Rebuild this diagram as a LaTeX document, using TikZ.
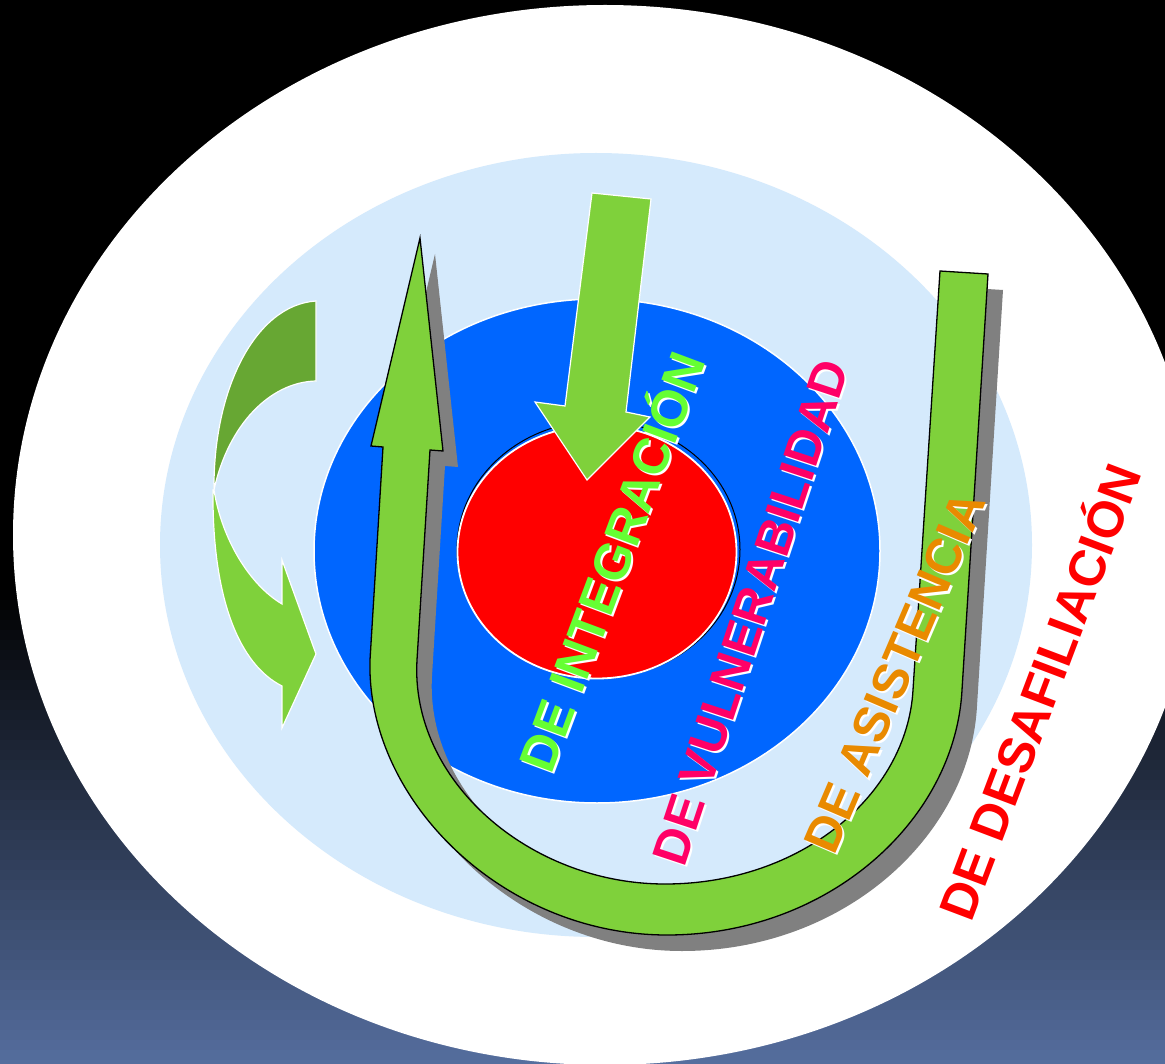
\documentclass[tikz,border=0pt]{standalone}
\usepackage{fontspec}
\setmainfont{Liberation Sans}
\definecolor{bgb}{HTML}{566FA0}
\definecolor{lblue}{HTML}{D5EAFC}
\definecolor{mblue}{HTML}{0066FF}
\definecolor{ugreen}{HTML}{7FD13B}
\definecolor{dgreen}{HTML}{67A733}
\definecolor{shadowgray}{HTML}{808080}
\definecolor{intg}{HTML}{66FF33}
\definecolor{vuln}{HTML}{FF0066}
\definecolor{asis}{HTML}{E98A00}
\definecolor{desa}{HTML}{FF0000}
\newcommand{\shtext}[2]{\makebox[0pt][l]{\hspace{-1.2pt}\raisebox{-2.5pt}{\color{white}#2}}{\color{#1}#2}}
\tikzset{
  lbla/.style={inner sep=0pt, text depth=0pt, text height=36.5pt, font=\fontsize{51}{51}\selectfont\bfseries},
  lblb/.style={inner sep=0pt, text depth=0pt, text height=35.8pt, font=\fontsize{50}{50}\selectfont\bfseries},
  arrowfill/.style={fill=ugreen, draw=white, line width=1.2pt},
}
\def\Upath{(420,238) -- (443,451) -- (430,450) -- (417,660) .. controls (410,780) and (529,884) .. (665,884) .. controls (801,884) and (907,795) .. (913,690) -- (940,271) -- (988,274) -- (962,690) .. controls (955,820) and (829,935) .. (667,935) .. controls (503,935) and (366,800) .. (370,660) -- (383,447) -- (371,446) -- cycle}
\begin{document}
\begin{tikzpicture}[x=1pt,y=-1pt, line join=miter]
\useasboundingbox (0,0) rectangle (1165,1064);
\clip (0,0) rectangle (1165,1064);
% background
\fill[black] (0,0) rectangle (1165,1064);
\foreach \i in {0,...,47} {
  \pgfmathsetmacro{\p}{(\i+0.5)/48*100}
  \fill[bgb!\p!black] (0,590+10*\i) rectangle (1165,601+10*\i);
}
% ellipses
\fill[white] (605,535) ellipse [x radius=592, y radius=530];
\fill[lblue] (596,545) ellipse [x radius=436, y radius=392];
\filldraw[fill=mblue, draw=white, line width=1.5pt] (597,551) ellipse [x radius=283, y radius=252];
\draw[black, line width=1pt] (598.5,549.5) ellipse [x radius=141.5, y radius=128.5];
\filldraw[fill=red, draw=white, line width=1.8pt] (597,552) ellipse [x radius=139.5, y radius=126.5];
% left curved arrow
\filldraw[fill=dgreen, draw=white, line width=1.2pt]
  (316,301) -- (316,381) .. controls (270,382) and (228,425) .. (214,490)
  .. controls (213,390) and (255,305) .. (316,301) -- cycle;
\filldraw[arrowfill]
  (213,490) .. controls (212,600) and (240,665) .. (282,686)
  -- (282,728) -- (316,654) -- (282,560) -- (282,604)
  .. controls (250,585) and (222,540) .. (214,490) -- cycle;
% U arrow with shadow
\fill[shadowgray, shift={(15,16)}] \Upath;
\filldraw[fill=ugreen, draw=black, line width=1.3pt] \Upath;
% down arrow
\filldraw[arrowfill] (592,193) -- (651,199) -- (626,412) -- (650,417) -- (587,480) -- (535,402) -- (565,406) -- cycle;
% texts
\node[lbla, rotate=69.5] (t1) at (612,562) {\shtext{intg}{DE INTEGRACIÓN}};
\node[lblb, rotate=71.7] (t2) at (750,612) {\shtext{vuln}{DE VULNERABILIDAD}};
\node[lblb, rotate=66.8] (t3) at (894,672) {\shtext{asis}{DE ASISTENCIA}};
\node[lbla, rotate=69.3, text=desa] (t4) at (1040,692) {DE DESAFILIACIÓN};
\end{tikzpicture}
\end{document}
